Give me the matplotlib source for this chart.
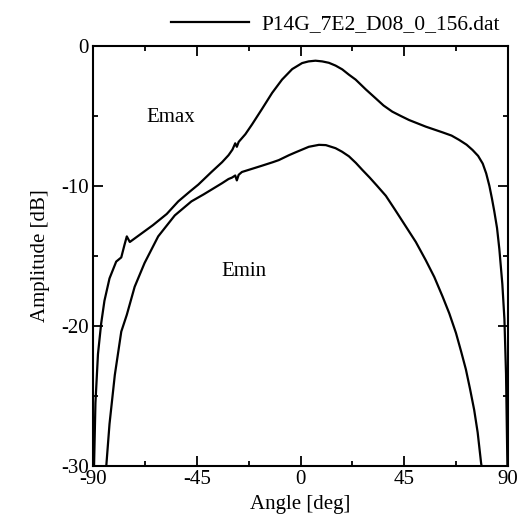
import matplotlib
matplotlib.use('Agg')
from matplotlib import pyplot as plt
from matplotlib.ticker import MultipleLocator

# Emax curve (angle in deg, amplitude in dB)
emax_angle = [-89.5, -88.9, -87.8, -86.4, -85.0, -82.8, -79.9, -77.7, -76.3, -75.3,
              -74.0, -69.0, -64.0, -58.0, -53.0, -48.0, -44.3, -38.6, -34.0, -31.2,
              -29.5, -28.3, -27.6, -26.8, -23.9, -21.0, -16.7, -12.3, -8.0, -3.6,
              0.7, 3.5, 6.5, 9.4, 12.3, 15.2, 18.1, 21.0, 23.9, 28.3,
              32.6, 36.0, 39.8, 43.5, 47.1, 54.3, 61.6, 65.5, 68.8, 72.0,
              74.6, 77.0, 79.0, 80.5, 81.9, 83.0, 84.0, 85.2, 86.2, 87.5,
              88.4, 89.1, 89.7]
emax_db = [-30.0, -25.5, -22.0, -19.8, -18.2, -16.6, -15.4, -15.1, -14.2, -13.6,
           -14.0, -13.4, -12.8, -12.0, -11.1, -10.4, -9.9, -9.0, -8.3, -7.8,
           -7.4, -6.95, -7.2, -6.85, -6.3, -5.6, -4.5, -3.35, -2.4, -1.65,
           -1.22, -1.1, -1.05, -1.1, -1.2, -1.4, -1.67, -2.05, -2.4, -3.1,
           -3.74, -4.25, -4.69, -5.0, -5.29, -5.76, -6.17, -6.4, -6.71, -7.05,
           -7.43, -7.85, -8.4, -9.1, -10.0, -10.9, -11.8, -13.0, -14.5, -17.0,
           -19.5, -23.4, -30.0]

# Emin curve
emin_angle = [-84.2, -82.8, -80.5, -77.7, -75.3, -71.9, -67.6, -61.7, -54.5, -47.3,
              -42.0, -38.5, -34.0, -31.2, -29.7, -28.3, -27.6, -26.8, -25.4, -22.5,
              -16.7, -12.0, -9.4, -5.0, -2.2, 0.7, 3.6, 8.0, 11.0, 15.2,
              18.0, 21.0, 24.0, 26.8, 30.0, 33.0, 37.0, 41.0, 45.7, 50.0,
              54.3, 58.0, 61.6, 64.5, 67.4, 69.6, 71.7, 73.5, 75.3, 76.8,
              78.3, 78.5]
emin_db = [-30.0, -27.0, -23.5, -20.4, -19.2, -17.2, -15.5, -13.6, -12.1, -11.1,
           -10.6, -10.25, -9.8, -9.5, -9.4, -9.25, -9.6, -9.2, -9.0, -8.85,
           -8.55, -8.3, -8.15, -7.8, -7.6, -7.4, -7.2, -7.06, -7.08, -7.3,
           -7.55, -7.88, -8.35, -8.85, -9.4, -9.95, -10.7, -11.7, -12.9, -14.0,
           -15.3, -16.5, -17.9, -19.1, -20.5, -21.8, -23.1, -24.5, -26.0, -27.6,
           -29.8, -30.0]

x_ticks = [-90, -45, 0, 45, 90]
y_ticks = [0, -10, -20, -30]

plt.rcParams['font.family'] = ['Liberation Serif', 'DejaVu Serif']
plt.rcParams['font.size'] = 15
plt.rcParams['axes.unicode_minus'] = False

fig = plt.figure(figsize=(5.19, 5.18), dpi=100)
ax = fig.add_axes([0.179, 0.1004, 0.800, 0.8108])

ax.plot(emax_angle, emax_db, color='black', lw=1.6, label='P14G_7E2_D08_0_156.dat')
ax.plot(emin_angle, emin_db, color='black', lw=1.6)

ax.set_xlim(-90, 90)
ax.set_ylim(-30, 0)
ax.set_xticks(x_ticks)
ax.set_yticks(y_ticks)
ax.xaxis.set_minor_locator(MultipleLocator(22.5))
ax.yaxis.set_minor_locator(MultipleLocator(5))
ax.tick_params(which='both', direction='in', top=True, right=True, width=1.3)
ax.tick_params(which='major', length=7, pad=3, labelsize=15)
ax.tick_params(which='minor', length=3.5)
for s in ax.spines.values():
    s.set_linewidth(1.5)

ax.text(-56.4, -5.1, 'Emax', ha='center', va='center', fontsize=15)
ax.text(-24.6, -16.1, 'Emin', ha='center', va='center', fontsize=15)

ax.set_xlabel('Angle [deg]', labelpad=4)
ax.set_ylabel('Amplitude [dB]', labelpad=8)

ax.legend(loc='lower right', bbox_to_anchor=(1.01, 1.0), frameon=False,
          handlelength=3.6, handletextpad=0.6, borderaxespad=0.15, fontsize=15.5)

fig.savefig('out.png', dpi=100)
